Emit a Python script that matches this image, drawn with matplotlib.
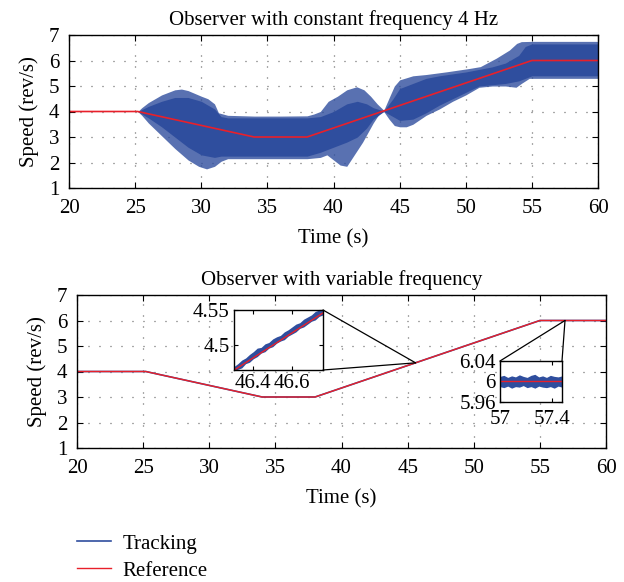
import matplotlib
matplotlib.use("Agg")
import matplotlib.pyplot as plt
import numpy as np
from matplotlib.patches import ConnectionPatch

plt.rcParams['font.family'] = ['Liberation Serif', 'DejaVu Serif']
plt.rcParams['font.size'] = 15

BLUE = '#2F4E9E'
RED = '#E8202A'

# ---------------- data ----------------
# reference speed profile
ref_t = [20, 25.2, 34, 38, 55, 60]
ref_s = [4, 4, 3, 3, 6, 6]

# top panel: tracking envelope (outer spikes)
outer_t = [20, 25.2, 25.5, 26, 27, 28, 28.5, 29, 30, 30.5, 31, 31.3, 32, 34, 36, 38, 38.5, 39,
           39.6, 40.3, 41, 41.75, 42.3, 42.8, 43.3, 43.8, 44.3, 44.6, 45, 46, 47, 48.6, 50.3,
           51.1, 52.3, 53.3, 53.85, 54.2, 55, 60]
outer_up = [4.0, 4.0, 4.15, 4.35, 4.65, 4.85, 4.88, 4.82, 4.6, 4.5, 4.3, 3.95, 3.85, 3.82, 3.82,
            3.83, 3.9, 4.0, 4.4, 4.6, 4.85, 4.97, 4.85, 4.6, 4.3, 4.05, 4.65, 5.0, 5.24, 5.4,
            5.45, 5.56, 5.69, 5.76, 6.09, 6.41, 6.67, 6.74, 6.75, 6.75]
lower_t = [20, 25.2, 25.5, 26, 27, 28, 29, 29.8, 30.4, 31, 31.5, 32, 33, 38, 39, 39.5, 40,
           40.5, 41, 42.2, 43, 43.5, 43.8, 44.2, 44.6, 45, 45.5, 46, 47, 48, 49, 50, 51, 52,
           53, 53.8, 54.2, 54.8, 60]
outer_lo = [4.0, 4.0, 3.85, 3.55, 3.05, 2.55, 2.1, 1.85, 1.75, 1.85, 2.05, 2.15, 2.15, 2.15,
            2.2, 2.3, 2.1, 1.9, 1.85, 2.8, 3.55, 3.95, 4.0, 3.7, 3.45, 3.4, 3.4, 3.5, 3.85,
            4.1, 4.4, 4.65, 4.95, 5.0, 5.0, 4.95, 5.1, 5.3, 5.3]

# top panel: dense core of the tracking signal
core_t = [20, 25.2, 26, 27, 28, 29, 30, 31, 31.5, 32, 38, 39, 40, 41, 41.8, 42.5, 43, 43.8,
          44.5, 45, 46, 47, 48, 50, 51, 52, 53, 54, 54.5, 55, 60]
core_up = [4, 4, 4.2, 4.4, 4.55, 4.55, 4.4, 4.1, 3.8, 3.75, 3.75, 3.8, 4.0, 4.3, 4.4, 4.3,
           4.15, 4.02, 4.5, 4.9, 5.1, 5.3, 5.4, 5.55, 5.65, 5.75, 5.9, 6.2, 6.55, 6.65, 6.65]
core_lo = [4, 4, 3.75, 3.4, 3.0, 2.6, 2.3, 2.2, 2.25, 2.25, 2.25, 2.4, 2.6, 2.8, 3.0, 3.35,
           3.7, 4.0, 3.8, 3.65, 3.7, 3.95, 4.25, 4.75, 5.0, 5.05, 5.1, 5.2, 5.3, 5.4, 5.4]

# bottom panel: tracking (variable frequency observer)
track_t = [20, 25.2, 34, 38, 55, 60]
track_s = [4, 4, 3, 3, 6, 6]

# inset 1 tracking band (46.3 .. 46.76 s)
in1_t = [46.30, 46.32, 46.34, 46.36, 46.38, 46.40, 46.42, 46.44, 46.46, 46.48, 46.50, 46.52,
         46.54, 46.56, 46.58, 46.60, 46.62, 46.64, 46.66, 46.68, 46.70, 46.72, 46.74, 46.76]
in1_up = [4.470, 4.474, 4.479, 4.482, 4.487, 4.491, 4.496, 4.497, 4.502, 4.504, 4.509, 4.512,
          4.514, 4.519, 4.522, 4.526, 4.530, 4.532, 4.537, 4.540, 4.543, 4.548, 4.550, 4.552]
in1_lo = [4.464, 4.466, 4.468, 4.474, 4.476, 4.481, 4.484, 4.489, 4.491, 4.496, 4.498, 4.503,
          4.506, 4.508, 4.513, 4.516, 4.519, 4.524, 4.526, 4.530, 4.534, 4.536, 4.541, 4.543]

# inset 2 tracking band (57 .. 57.48 s)
in2_t = [57.00, 57.03, 57.06, 57.09, 57.12, 57.15, 57.18, 57.21, 57.24, 57.27, 57.30, 57.33,
         57.36, 57.39, 57.42, 57.45, 57.48]
in2_up = [6.010, 6.012, 6.008, 6.011, 6.009, 6.013, 6.010, 6.008, 6.012, 6.014, 6.009, 6.011,
          6.008, 6.012, 6.010, 6.009, 6.011]
in2_lo = [5.990, 5.988, 5.991, 5.987, 5.990, 5.989, 5.992, 5.988, 5.990, 5.987, 5.991, 5.989,
          5.988, 5.990, 5.987, 5.991, 5.989]

xticks = [20, 25, 30, 35, 40, 45, 50, 55, 60]
yticks = [1, 2, 3, 4, 5, 6, 7]

# ---------------- figure ----------------
W, H = 624, 582
fig = plt.figure(figsize=(W / 100, H / 100), dpi=100)


def frac(x0, y0, x1, y1):
    return [x0 / W, 1 - y1 / H, (x1 - x0) / W, (y1 - y0) / H]


def style_axes(ax, grid=True):
    ax.tick_params(direction='in', top=True, right=True, length=4, width=0.8)
    for sp in ax.spines.values():
        sp.set_linewidth(1.0)
    if grid:
        ax.grid(True, color='#555555', linestyle=(0, (0.8, 8)), linewidth=0.9)
        ax.tick_params(axis='x', pad=8)
        ax.tick_params(axis='y', pad=7)
    ax.set_axisbelow(True)


ax1 = fig.add_axes(frac(69, 35, 598, 188))
ax1.fill_between(outer_t, outer_up, np.interp(outer_t, ref_t, ref_s), color=BLUE, alpha=0.8, lw=0)
ax1.fill_between(lower_t, outer_lo, np.interp(lower_t, ref_t, ref_s), color=BLUE, alpha=0.8, lw=0)
ax1.fill_between(core_t, core_up, core_lo, color=BLUE, lw=0)
ax1.plot(ref_t, ref_s, color=RED, lw=1.2)
ax1.set_xlim(20, 60)
ax1.set_ylim(1, 7)
ax1.set_xticks(xticks)
ax1.set_yticks(yticks)
style_axes(ax1)
ax1.set_title('Observer with constant frequency 4 Hz', fontsize=15, pad=7)
ax1.set_xlabel('Time (s)', labelpad=8)
ax1.set_ylabel('Speed (rev/s)', labelpad=7)

ax2 = fig.add_axes(frac(77, 295, 606, 448))
l_track, = ax2.plot(track_t, track_s, color=BLUE, lw=1.2)
l_ref, = ax2.plot(ref_t, ref_s, color=RED, lw=1.0)
ax2.set_xlim(20, 60)
ax2.set_ylim(1, 7)
ax2.set_xticks(xticks)
ax2.set_yticks(yticks)
style_axes(ax2)
ax2.set_title('Observer with variable frequency', fontsize=15, pad=7)
ax2.set_xlabel('Time (s)', labelpad=8)
ax2.set_ylabel('Speed (rev/s)', labelpad=7)

# inset 1
ins1 = fig.add_axes(frac(234, 310, 323, 370))
ins1.fill_between(in1_t, in1_up, in1_lo, color=BLUE, lw=0)
ins1.plot(ref_t, ref_s, color=RED, lw=1.0)
ins1.set_xlim(46.3, 46.76)
ins1.set_ylim(4.465, 4.55)
ins1.set_xticks([46.4, 46.6])
ins1.set_xticklabels(['46.4', '46.6'])
ins1.set_yticks([4.5, 4.55])
ins1.set_yticklabels(['4.5', '4.55'])
style_axes(ins1, grid=False)
ins1.tick_params(pad=3, length=3)

# inset 2
ins2 = fig.add_axes(frac(500, 361, 562, 402))
ins2.fill_between(in2_t, in2_up, in2_lo, color=BLUE, lw=0)
ins2.plot(ref_t, ref_s, color=RED, lw=1.0)
ins2.set_xlim(57, 57.48)
ins2.set_ylim(5.96, 6.04)
ins2.set_xticks([57, 57.4])
ins2.set_xticklabels(['57', '57.4'])
ins2.set_yticks([5.96, 6, 6.04])
ins2.set_yticklabels(['5.96', '6', '6.04'])
style_axes(ins2, grid=False)
ins2.tick_params(axis='y', pad=3, length=3)
ins2.tick_params(axis='x', pad=6, length=3)

# zoom connector lines
for ax_in, corners, pt in [(ins1, [(1, 1), (1, 0)], (45.6, 4.34)),
                           (ins2, [(0, 1), (1, 1)], (56.9, 6.0))]:
    for c in corners:
        con = ConnectionPatch(xyA=c, coordsA=ax_in.transAxes, xyB=pt, coordsB=ax2.transData,
                              color='black', lw=0.9)
        fig.add_artist(con)

fig.legend([l_track, l_ref], ['Tracking', 'Reference'], loc='upper left',
           bbox_to_anchor=(77 / W, 1 - 534 / H), frameon=False, handlelength=1.65,
           handletextpad=0.55, labelspacing=0.36, borderpad=0, borderaxespad=0)

fig.savefig('out.png', dpi=100)
